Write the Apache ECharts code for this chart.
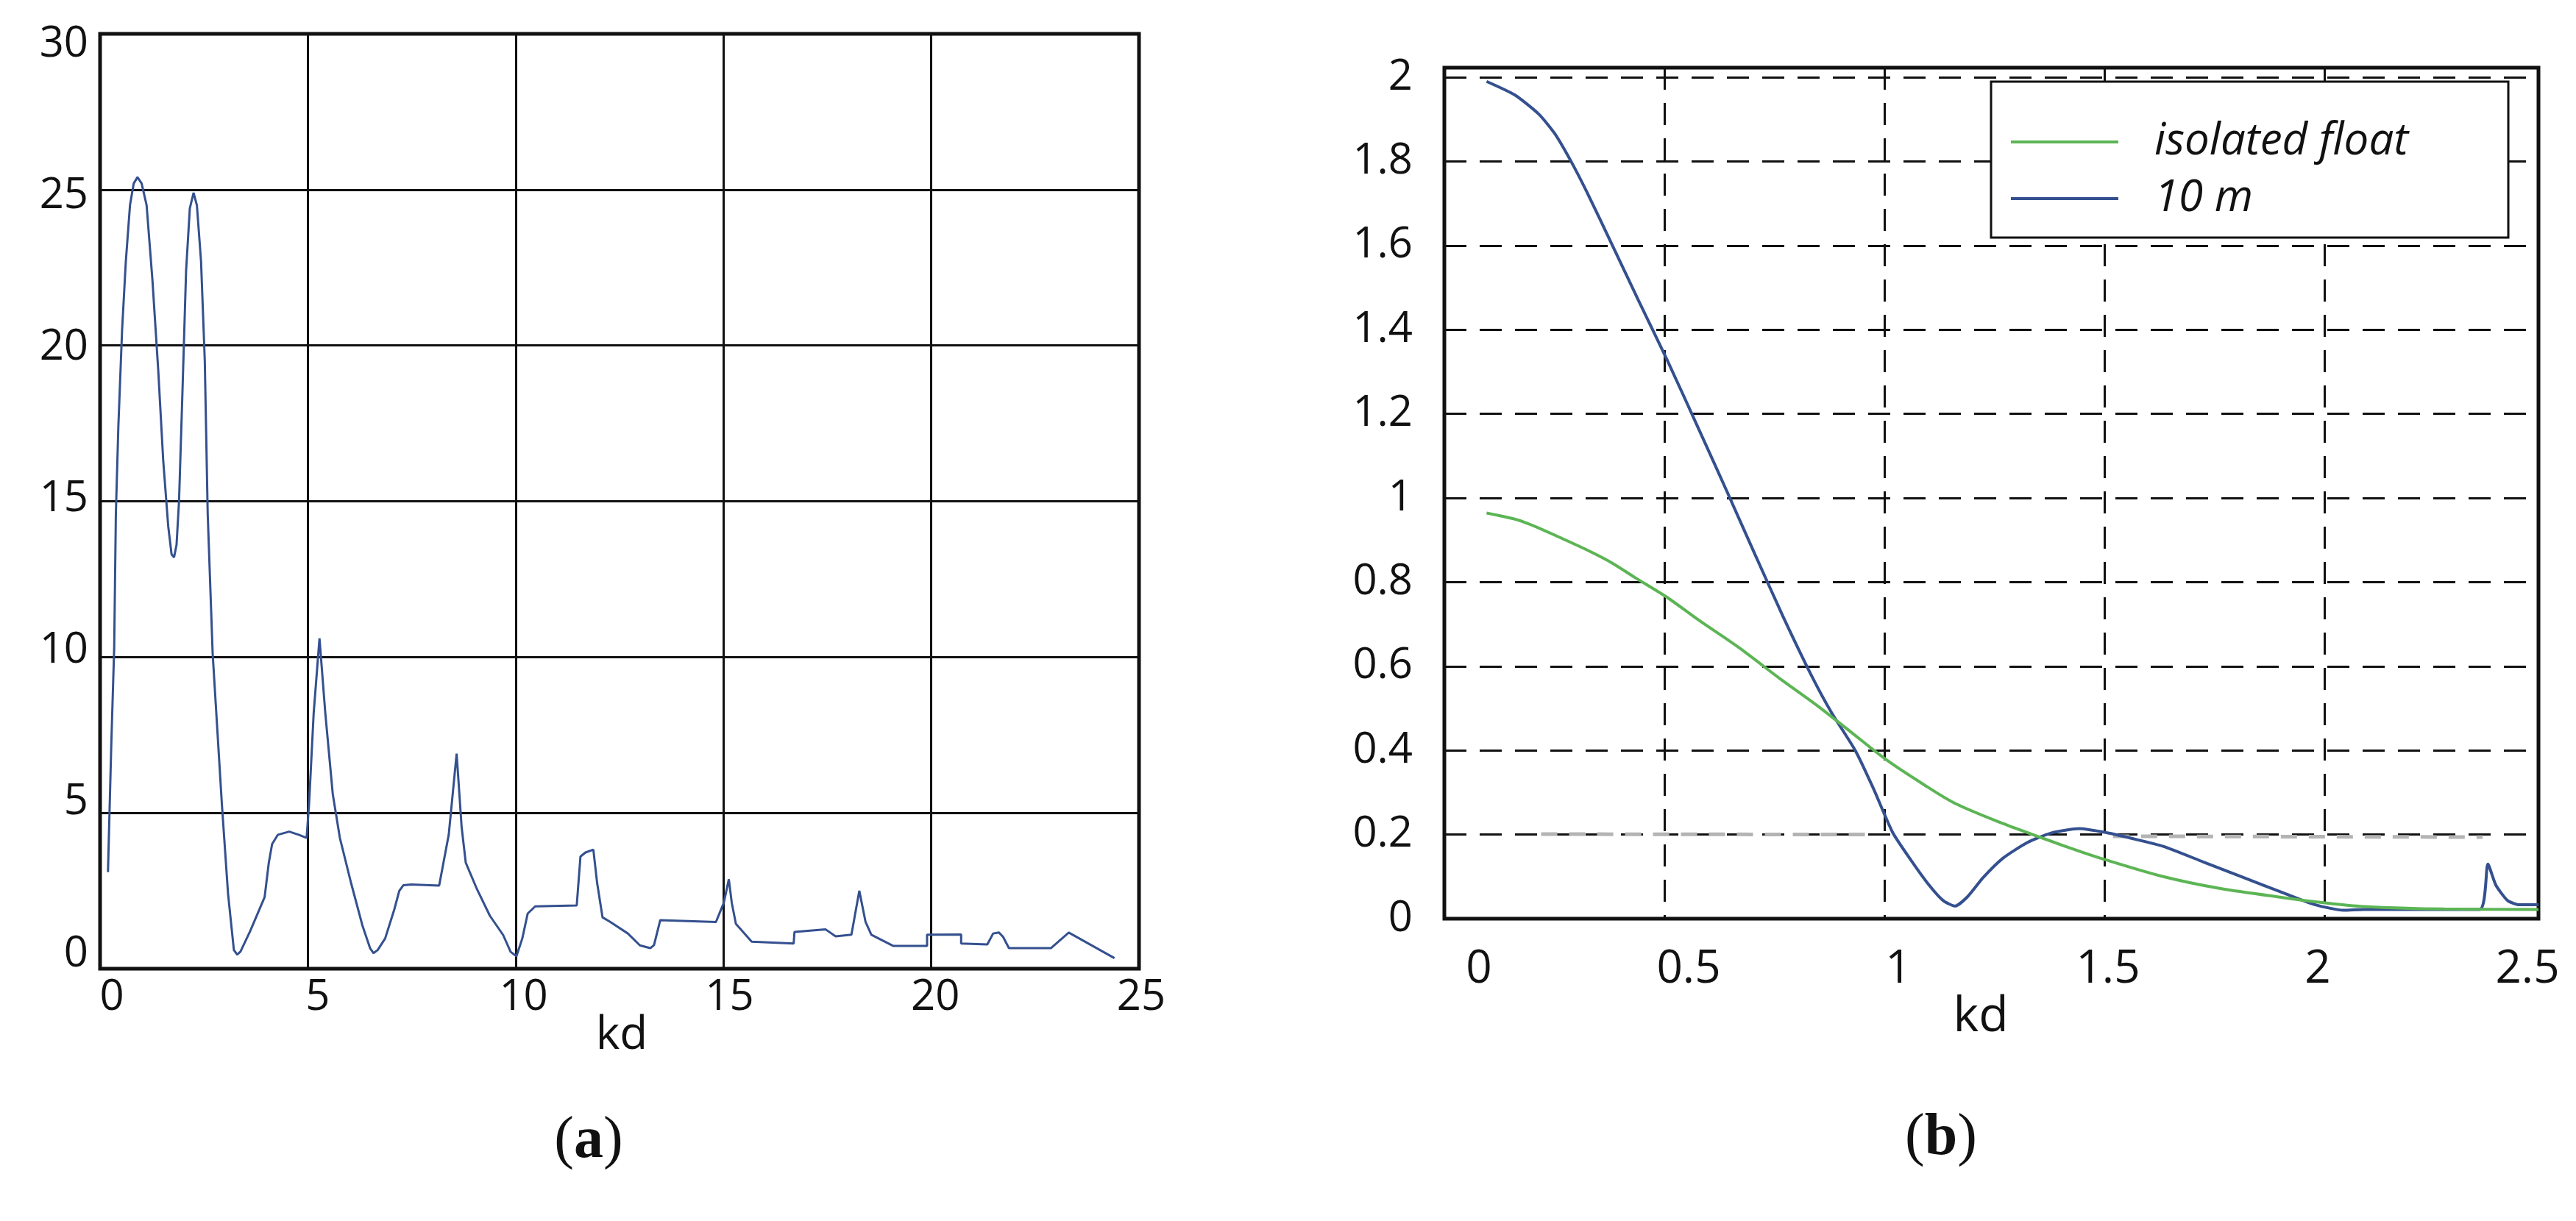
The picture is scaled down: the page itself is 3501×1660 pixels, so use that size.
<!DOCTYPE html>
<html>
<head>
<meta charset="utf-8">
<title>kd</title>
<script src="https://cdn.jsdelivr.net/npm/echarts@6/dist/echarts.min.js"></script>
<style>
  html, body { margin: 0; padding: 0; background: #fff; }
  #chart { width: 3501px; height: 1660px; }
</style>
</head>
<body>
<div id="chart"></div>
<script>
// (a) response over kd
const curveA = [
  [0.19, 3.1], [0.27, 7.2], [0.34, 10.3], [0.38, 14.6], [0.44, 17.4], [0.53, 20.5], [0.62, 22.7],
  [0.72, 24.5], [0.81, 25.2], [0.9, 25.4], [1.0, 25.2], [1.12, 24.5], [1.26, 22.1], [1.4, 19.2],
  [1.52, 16.3], [1.64, 14.2], [1.72, 13.3], [1.78, 13.2], [1.84, 13.6], [1.9, 15.0], [1.98, 18.4],
  [2.07, 22.4], [2.16, 24.4], [2.25, 24.9], [2.33, 24.5], [2.43, 22.7], [2.52, 19.5], [2.59, 14.6],
  [2.71, 10.1], [2.93, 5.3], [3.08, 2.4], [3.22, 0.6], [3.3, 0.45], [3.38, 0.55], [3.61, 1.2],
  [3.96, 2.3], [4.06, 3.4], [4.14, 4.0], [4.28, 4.3], [4.55, 4.4], [4.78, 4.3], [4.97, 4.2],
  [5.03, 5.3], [5.14, 8.2], [5.28, 10.6], [5.42, 8.2], [5.6, 5.6], [5.77, 4.2], [6.04, 2.75],
  [6.31, 1.4], [6.5, 0.65], [6.58, 0.5], [6.68, 0.6], [6.86, 0.97], [7.08, 1.9], [7.2, 2.5],
  [7.3, 2.68], [7.49, 2.7], [8.16, 2.67], [8.39, 4.3], [8.58, 6.9], [8.7, 4.55], [8.8, 3.4],
  [9.07, 2.55], [9.38, 1.7], [9.7, 1.08], [9.88, 0.54], [10.02, 0.4], [10.16, 0.97], [10.29, 1.77],
  [10.47, 2.0], [11.47, 2.03], [11.56, 3.6], [11.68, 3.73], [11.87, 3.82], [11.96, 2.76],
  [12.09, 1.65], [12.28, 1.5], [12.7, 1.13], [12.99, 0.75], [13.24, 0.66], [13.33, 0.76],
  [13.48, 1.56], [14.82, 1.5], [15.01, 2.12], [15.13, 2.87], [15.2, 2.12], [15.3, 1.44],
  [15.68, 0.87], [16.69, 0.81], [16.71, 1.18], [17.46, 1.26], [17.7, 1.04], [18.08, 1.09],
  [18.27, 2.5], [18.42, 1.5], [18.56, 1.09], [19.09, 0.73], [19.9, 0.73], [19.9, 1.09],
  [20.72, 1.1], [20.72, 0.81], [21.35, 0.78], [21.49, 1.13], [21.63, 1.16], [21.73, 1.02],
  [21.87, 0.66], [22.88, 0.66], [23.31, 1.16], [24.41, 0.34]
]

// (b) isolated float vs 10 m
const floatB = [
  [0.096, 0.964], [0.178, 0.944], [0.269, 0.903], [0.333, 0.872], [0.382, 0.845], [0.433, 0.811],
  [0.506, 0.764], [0.579, 0.709], [0.67, 0.644], [0.761, 0.572], [0.852, 0.503], [0.925, 0.443],
  [1.007, 0.376], [1.088, 0.32], [1.161, 0.274], [1.27, 0.226], [1.361, 0.191], [1.45, 0.158],
  [1.503, 0.14], [1.634, 0.1], [1.762, 0.072], [1.908, 0.05], [1.999, 0.038], [2.09, 0.029],
  [2.272, 0.023], [2.487, 0.022]
]
const tenMB = [
  [0.096, 1.99], [0.16, 1.958], [0.215, 1.912], [0.251, 1.866], [0.288, 1.8], [0.324, 1.727],
  [0.379, 1.607], [0.442, 1.468], [0.506, 1.329], [0.579, 1.162], [0.643, 1.014], [0.706, 0.866],
  [0.77, 0.718], [0.834, 0.579], [0.88, 0.49], [0.934, 0.4], [0.975, 0.31], [1.019, 0.205],
  [1.06, 0.14], [1.098, 0.085], [1.134, 0.043], [1.161, 0.03], [1.189, 0.052], [1.225, 0.098],
  [1.27, 0.144], [1.325, 0.181], [1.38, 0.204], [1.443, 0.214], [1.507, 0.204], [1.562, 0.191],
  [1.634, 0.172], [1.725, 0.135], [1.816, 0.098], [1.908, 0.061], [1.98, 0.033], [2.044, 0.02],
  [2.09, 0.022], [2.353, 0.022], [2.372, 0.13], [2.39, 0.08], [2.417, 0.043], [2.444, 0.033],
  [2.487, 0.033]
]
// grey dashed trace lying on the 0.2 grid line
const greyB1 = [[0.22, 0.201], [0.98, 0.2]]
const greyB2 = [[1.52, 0.196], [2.36, 0.194]]

const ticksAx = [0, 5, 10, 15, 20, 25]
const ticksAy = [0, 5, 10, 15, 20, 25, 30]
const ticksBx = [0, 0.5, 1, 1.5, 2, 2.5]
const ticksBy = [0, 0.2, 0.4, 0.6, 0.8, 1, 1.2, 1.4, 1.6, 1.8, 2]

const black = '#111'
const blue = '#34508f'
const green = '#5cb554'
const numFont = "'Liberation Sans Narrow', 'Open Sans', sans-serif"

const step = arr => arr[1] - arr[0]
const last = arr => arr[arr.length - 1]

const dash = { color: black, width: 3, type: [30, 18] }
const noLine = { show: false }

const chart = echarts.init(document.getElementById('chart'))

const option = {
  backgroundColor: '#fff',
  animation: false,
  grid: [
    { left: 136, top: 46, width: 1412, height: 1271, show: true, borderColor: black, borderWidth: 5, outerBoundsMode: 'none' },
    { left: 152, top: 60, width: 1399, height: 1237, outerBoundsMode: 'none' },
    { left: 1963, top: 92, width: 1487, height: 1157, show: true, borderColor: black, borderWidth: 5, outerBoundsMode: 'none' },
    { left: 2010, top: 92, width: 1425, height: 1157, outerBoundsMode: 'none' }
  ],
  xAxis: [
    {
      type: 'value', gridIndex: 0, min: ticksAx[0], max: last(ticksAx), interval: step(ticksAx),
      axisLine: noLine, axisTick: noLine, axisLabel: noLine,
      splitLine: { show: true, lineStyle: { color: black, width: 3 } }
    },
    {
      type: 'value', gridIndex: 1, min: ticksAx[0], max: last(ticksAx), interval: step(ticksAx),
      axisLine: noLine, axisTick: noLine, splitLine: noLine,
      axisLabel: { color: black, fontSize: 58, fontFamily: numFont, margin: 30 }
    },
    {
      type: 'value', gridIndex: 2, min: ticksBx[0], max: 2.487, interval: step(ticksBx),
      axisLine: noLine, axisTick: noLine, axisLabel: noLine,
      splitLine: { show: true, lineStyle: dash }
    },
    {
      type: 'value', gridIndex: 3, min: ticksBx[0], max: last(ticksBx), interval: step(ticksBx),
      axisLine: noLine, axisTick: noLine, splitLine: noLine,
      axisLabel: { color: black, fontSize: 62, fontFamily: numFont, margin: 38 }
    }
  ],
  yAxis: [
    {
      type: 'value', gridIndex: 0, min: ticksAy[0], max: last(ticksAy), interval: step(ticksAy),
      axisLine: noLine, axisTick: noLine, axisLabel: noLine,
      splitLine: { show: true, lineStyle: { color: black, width: 3 } }
    },
    {
      type: 'value', gridIndex: 1, min: ticksAy[0], max: last(ticksAy), interval: step(ticksAy),
      axisLine: noLine, axisTick: noLine, splitLine: noLine,
      axisLabel: { color: black, fontSize: 58, fontFamily: numFont, margin: 32 }
    },
    {
      type: 'value', gridIndex: 2, min: ticksBy[0], max: 2.0227, interval: step(ticksBy),
      axisLine: noLine, axisTick: noLine,
      splitLine: { show: true, lineStyle: dash },
      axisLabel: {
        color: black, fontSize: 58, fontFamily: numFont, margin: 43,
        formatter: function (v) {
          const r = Math.round(v * 5) / 5
          return Math.abs(r - v) < 1e-6 ? String(r) : ''
        }
      }
    },
    { type: 'value', gridIndex: 3, show: false, min: 0, max: 1 }
  ],
  legend: {
    data: ['isolated float', '10 m'],
    orient: 'vertical',
    left: 2706,
    top: 111,
    padding: [52, 58, 23, 27],
    icon: 'rect',
    itemWidth: 146,
    itemHeight: 4,
    itemGap: 17,
    borderColor: black,
    borderWidth: 3,
    backgroundColor: '#fff',
    textStyle: {
      color: black, fontFamily: "'Open Sans', sans-serif", fontStyle: 'italic',
      fontSize: 60, lineHeight: 60, width: 423, padding: [0, 0, 0, 44]
    }
  },
  series: [
    {
      name: 'a', type: 'line', xAxisIndex: 0, yAxisIndex: 0, data: curveA,
      symbol: 'none', lineStyle: { color: blue, width: 3 }
    },
    {
      name: 'grey1', type: 'line', xAxisIndex: 2, yAxisIndex: 2, data: greyB1, silent: true,
      symbol: 'none', lineStyle: { color: '#b4b4b4', width: 5, type: [22, 16] }
    },
    {
      name: 'grey2', type: 'line', xAxisIndex: 2, yAxisIndex: 2, data: greyB2, silent: true,
      symbol: 'none', lineStyle: { color: '#b4b4b4', width: 5, type: [22, 16] }
    },
    {
      name: '10 m', type: 'line', xAxisIndex: 2, yAxisIndex: 2, data: tenMB, smooth: 0.2,
      symbol: 'none', itemStyle: { color: blue }, lineStyle: { color: blue, width: 4 }
    },
    {
      name: 'isolated float', type: 'line', xAxisIndex: 2, yAxisIndex: 2, data: floatB, smooth: 0.3,
      symbol: 'none', itemStyle: { color: green }, lineStyle: { color: green, width: 4 }
    }
  ],
  graphic: [
    {
      type: 'text', x: 845, y: 1408,
      style: { text: 'kd', fill: black, fontSize: 62, fontFamily: numFont, align: 'center', verticalAlign: 'middle' }
    },
    {
      type: 'text', x: 2692, y: 1383,
      style: { text: 'kd', fill: black, fontSize: 66, fontFamily: numFont, align: 'center', verticalAlign: 'middle' }
    },
    {
      type: 'text', x: 800, y: 1552,
      style: {
        text: '({b|a})', fill: black, fontSize: 80, fontFamily: "'Liberation Serif', serif",
        align: 'center', verticalAlign: 'middle',
        rich: { b: { fontWeight: 'bold', fontSize: 80, fontFamily: "'Liberation Serif', serif" } }
      }
    },
    {
      type: 'text', x: 2638, y: 1548,
      style: {
        text: '({b|b})', fill: black, fontSize: 80, fontFamily: "'Liberation Serif', serif",
        align: 'center', verticalAlign: 'middle',
        rich: { b: { fontWeight: 'bold', fontSize: 80, fontFamily: "'Liberation Serif', serif" } }
      }
    }
  ]
}

chart.setOption(option)
</script>
</body>
</html>
